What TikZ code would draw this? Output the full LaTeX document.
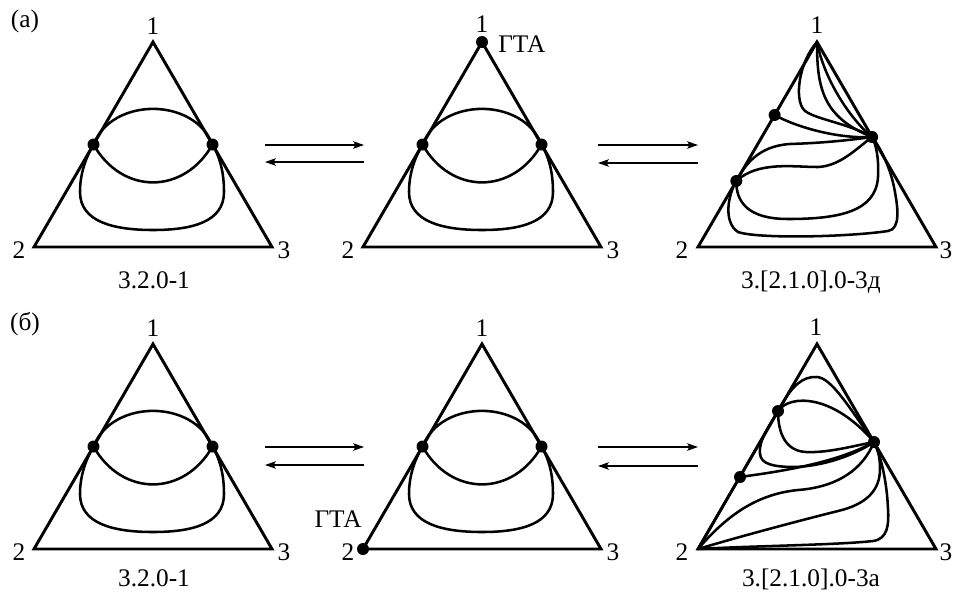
\documentclass[tikz,border=0pt]{standalone}
\usepackage{fontspec}
\setmainfont{Liberation Serif}
\usetikzlibrary{arrows.meta}
\tikzset{
  side/.style={line width=2.2pt, line join=miter},
  curve/.style={line width=1.9pt, line cap=round},
  dot/.style={circle, fill=black, draw=none, inner sep=0pt, minimum size=9pt},
  lbl/.style={font=\fontsize{19}{22}\selectfont, inner sep=0pt, anchor=base},
  rarrow/.style={line width=1.1pt, -{Stealth[length=8pt,width=5.5pt,inset=1.5pt]}},
}
\newcommand\tribase[1]{%
  \coordinate (#1-2) at (0,0);
  \coordinate (#1-1) at (119,-205);
  \coordinate (#1-3) at (238,0);
  \draw[side] (#1-2) -- (#1-1) -- (#1-3) -- cycle;
}
\newcommand\twoloops[1]{%
  \coordinate (#1-L) at (59.5,-102.5);
  \coordinate (#1-R) at (178.5,-102.5);
  \draw[curve] (#1-L) .. controls (78,-150) and (160,-150) .. (#1-R);
  \draw[curve] (#1-L) .. controls (88,-52) and (150,-52) .. (#1-R);
  \draw[curve] (#1-L) .. controls (51,-88) and (46,-72) .. (46,-55)
     .. controls (46,-25) and (80,-17) .. (119,-17)
     .. controls (158,-17) and (190,-25) .. (190,-55)
     .. controls (190,-72) and (187,-88) .. (#1-R);
  \node[dot] (#1-Ld) at (#1-L) {};
  \node[dot] (#1-Rd) at (#1-R) {};
}
\begin{document}
\begin{tikzpicture}[x=0.75pt,y=-0.75pt]
\useasboundingbox (0,0) rectangle (958,594);

% ---------------- row (a) ----------------
\node[lbl] (la) at (25,27) {(а)};

\begin{scope}[shift={(34,247)}]
  \tribase{ta}
  \twoloops{ta}
\end{scope}
\node[lbl] (ta1) at (153,34) {1};
\node[lbl] (ta2) at (19,258) {2};
\node[lbl] (ta3) at (284,258) {3};
\node[lbl] (tacap) at (154,288) {3.2.0-1};

\begin{scope}[shift={(363,247)}]
  \tribase{tb}
  \twoloops{tb}
  \node[dot] (tbg) at (tb-1) {};
\end{scope}
\node[lbl] (tb1) at (482,32) {1};
\node[lbl, anchor=base west] (tbgta) at (498,52) {ГТА};
\node[lbl] (tb2) at (348,258) {2};
\node[lbl] (tb3) at (613,258) {3};

\begin{scope}[shift={(698,247)}]
  \tribase{tc}
  \coordinate (tc-A) at (76.6,-132);
  \coordinate (tc-B) at (38.3,-66);
  \coordinate (tc-C) at (174.1,-110);
  \draw[curve] (tc-1) .. controls (126,-168) and (152,-128) .. (tc-C);
  \draw[curve] (tc-1) .. controls (119,-160) and (124,-130) .. (tc-C);
  \draw[curve] (tc-1) .. controls (101,-185) and (96,-148) .. (106,-137)
     .. controls (115,-128) and (150,-124) .. (tc-C);
  \draw[curve] (tc-A) .. controls (98,-120) and (140,-108) .. (tc-C);
  \draw[curve] (tc-B) .. controls (47,-82) and (60,-101) .. (92,-103)
     .. controls (122,-104) and (145,-106) .. (tc-C);
  \draw[curve] (tc-B) .. controls (60,-86) and (95,-80) .. (120,-80)
     .. controls (142,-81) and (158,-98) .. (tc-C);
  \draw[curve] (tc-B) .. controls (38,-45) and (50,-28) .. (90,-28)
     .. controls (140,-28) and (178,-35) .. (180,-70)
     .. controls (181,-90) and (178,-102) .. (tc-C);
  \draw[curve] (tc-B) .. controls (30,-52) and (25,-25) .. (40,-15)
     .. controls (60,-8) and (150,-10) .. (190,-16)
     .. controls (203,-18) and (200,-40) .. (196,-60)
     .. controls (192,-80) and (182,-100) .. (tc-C);
  \node[dot] (tc-Ad) at (tc-A) {};
  \node[dot] (tc-Bd) at (tc-B) {};
  \node[dot] (tc-Cd) at (tc-C) {};
\end{scope}
\node[lbl] (tc1) at (817,33) {1};
\node[lbl] (tc2) at (682,258) {2};
\node[lbl] (tc3) at (946,258) {3};
\node[lbl] (tccap) at (811,288) {3.[2.1.0].0-3д};

% arrows row (a)
\coordinate (a1s) at (265,145); \coordinate (a1e) at (364,145);
\coordinate (a2s) at (364,162); \coordinate (a2e) at (265,162);
\coordinate (a3s) at (598,145); \coordinate (a3e) at (698,145);
\coordinate (a4s) at (698,163); \coordinate (a4e) at (598,163);
\draw[rarrow] (a1s) -- (a1e);
\draw[rarrow] (a2s) -- (a2e);
\draw[rarrow] (a3s) -- (a3e);
\draw[rarrow] (a4s) -- (a4e);

% ---------------- row (b) ----------------
\node[lbl] (lb) at (25,330) {(б)};

\begin{scope}[shift={(34,549)}]
  \tribase{sa}
  \twoloops{sa}
\end{scope}
\node[lbl] (sa1) at (153,336) {1};
\node[lbl] (sa2) at (19,560) {2};
\node[lbl] (sa3) at (284,560) {3};
\node[lbl] (sacap) at (154,586) {3.2.0-1};

\begin{scope}[shift={(363,549)}]
  \tribase{sb}
  \twoloops{sb}
  \node[dot] (sbg) at (sb-2) {};
\end{scope}
\node[lbl] (sb1) at (482,336) {1};
\node[lbl, anchor=base east] (sbgta) at (362,527) {ГТА};
\node[lbl] (sb2) at (348,560) {2};
\node[lbl] (sb3) at (613,560) {3};

\begin{scope}[shift={(698,549)}]
  \tribase{sc}
  \coordinate (sc-A) at (80,-138);
  \coordinate (sc-B) at (42,-72);
  \coordinate (sc-C) at (176,-107);
  \draw[curve] (sc-2) -- (84,-145) .. controls (94,-162) and (104,-173) .. (119,-172)
     .. controls (134,-171) and (152,-140) .. (sc-C);
  \draw[curve] (sc-A) .. controls (92,-155) and (135,-155) .. (sc-C);
  \draw[curve] (sc-A) .. controls (80,-115) and (88,-98) .. (108,-97)
     .. controls (130,-96) and (155,-103) .. (sc-C);
  \draw[curve] (sc-A) .. controls (72,-124) and (60,-108) .. (62,-95)
     .. controls (63,-85) and (75,-82) .. (97,-82)
     .. controls (125,-83) and (155,-93) .. (sc-C);
  \draw[curve] (sc-B) .. controls (70,-76) and (135,-84) .. (sc-C);
  \draw[curve] (sc-2) .. controls (30,-35) and (60,-55) .. (100,-59)
     .. controls (140,-62) and (165,-80) .. (sc-C);
  \draw[curve] (sc-2) .. controls (40,-12) and (100,-28) .. (140,-38)
     .. controls (170,-45) and (182,-60) .. (182,-80)
     .. controls (182,-92) and (180,-100) .. (sc-C);
  \draw[curve] (sc-2) .. controls (50,-3) and (140,-4) .. (175,-8)
     .. controls (190,-10) and (191,-25) .. (190,-40)
     .. controls (189,-65) and (184,-90) .. (sc-C);
  \node[dot] (sc-Ad) at (sc-A) {};
  \node[dot] (sc-Bd) at (sc-B) {};
  \node[dot] (sc-Cd) at (sc-C) {};
\end{scope}
\node[lbl] (sc1) at (816,335) {1};
\node[lbl] (sc2) at (682,560) {2};
\node[lbl] (sc3) at (946,560) {3};
\node[lbl] (sccap) at (811,586) {3.[2.1.0].0-3а};

% arrows row (b)
\coordinate (b1s) at (265,447); \coordinate (b1e) at (364,447);
\coordinate (b2s) at (364,465); \coordinate (b2e) at (265,465);
\coordinate (b3s) at (598,447); \coordinate (b3e) at (698,447);
\coordinate (b4s) at (698,466); \coordinate (b4e) at (598,466);
\draw[rarrow] (b1s) -- (b1e);
\draw[rarrow] (b2s) -- (b2e);
\draw[rarrow] (b3s) -- (b3e);
\draw[rarrow] (b4s) -- (b4e);
\end{tikzpicture}
\end{document}
